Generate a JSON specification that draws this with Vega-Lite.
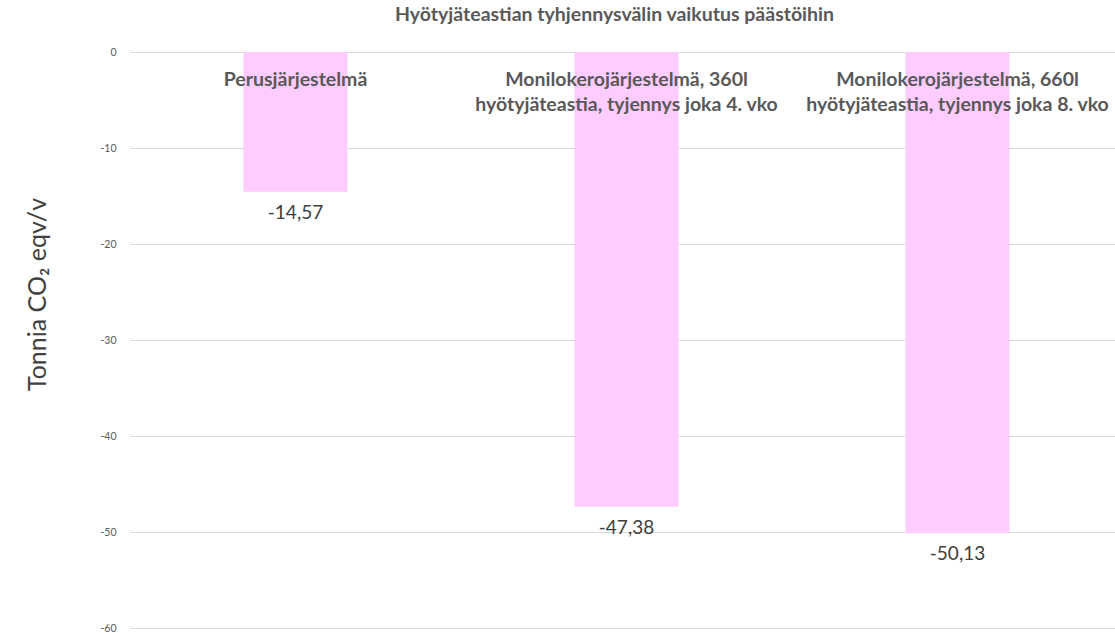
{
  "$schema": "https://vega.github.io/schema/vega-lite/v6.json",
  "width": 993,
  "height": 576,
  "autosize": {"type": "none"},
  "padding": {"left": 130, "top": 52, "right": 0, "bottom": 5},
  "background": "white",
  "config": {
    "view": {"stroke": null},
    "font": "Lato",
    "locale": {"number": {"decimal": ",", "thousands": " ", "grouping": [3], "currency": ["", " €"], "minus": "-"}}
  },
  "title": {
    "text": "Hyötyjäteastian tyhjennysvälin vaikutus päästöihin",
    "font": "Lato",
    "fontSize": 19.5,
    "fontWeight": "bold",
    "color": "#595959",
    "anchor": "middle",
    "dx": -12,
    "offset": 22
  },
  "data": {
    "values": [
      {"kategoria": "Perusjärjestelmä", "arvo": -14.57},
      {"kategoria": "Monilokerojärjestelmä, 360l\nhyötyjäteastia, tyjennys joka 4. vko", "arvo": -47.38},
      {"kategoria": "Monilokerojärjestelmä, 660l\nhyötyjäteastia, tyjennys joka 8. vko", "arvo": -50.13}
    ]
  },
  "encoding": {
    "x": {
      "field": "kategoria",
      "type": "nominal",
      "sort": null,
      "scale": {"paddingInner": 0, "paddingOuter": 0},
      "axis": null
    }
  },
  "layer": [
    {
      "mark": {"type": "bar", "color": "#FFCCFF", "size": 104},
      "encoding": {
        "y": {
          "field": "arvo",
          "type": "quantitative",
          "scale": {"domain": [-60, 0], "nice": false},
          "axis": {
            "title": "Tonnia CO₂ eqv/v",
            "titleFont": "Lato",
            "titleFontSize": 25,
            "titleFontWeight": "normal",
            "titleColor": "#404040",
            "titleX": -80,
            "titleY": 242,
            "titleAngle": -90,
            "values": [0, -10, -20, -30, -40, -50, -60],
            "format": "d",
            "labelFontSize": 10.5,
            "labelColor": "#595959",
            "labelPadding": 14,
            "ticks": false,
            "domain": false,
            "grid": true,
            "gridColor": "#d9d9d9",
            "gridWidth": 1
          }
        }
      }
    },
    {
      "mark": {"type": "text", "baseline": "middle", "dy": 21, "fontSize": 19, "color": "#404040", "font": "Lato"},
      "encoding": {
        "y": {"field": "arvo", "type": "quantitative"},
        "text": {"field": "arvo", "type": "quantitative", "format": ".2f"}
      }
    },
    {
      "mark": {"type": "text", "baseline": "middle", "dy": 28, "fontSize": 19.5, "fontWeight": "bold", "color": "#595959", "font": "Lato", "lineBreak": "\n", "lineHeight": 25},
      "encoding": {
        "y": {"datum": 0, "type": "quantitative"},
        "text": {"field": "kategoria", "type": "nominal"}
      }
    }
  ]
}
